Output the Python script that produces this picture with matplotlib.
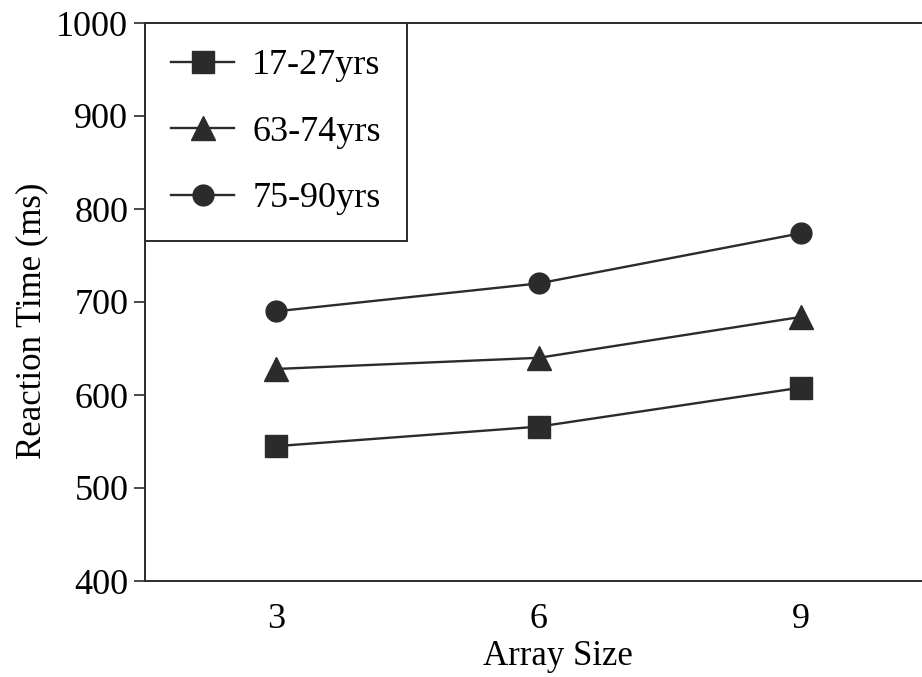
import matplotlib.pyplot as plt

plt.rcParams['font.family'] = ['Liberation Serif', 'DejaVu Serif']

# data
array_size = [3, 6, 9]
young = [545, 566, 608]      # 17-27yrs
old = [628, 640, 684]        # 63-74yrs
oldest = [690, 720, 774]     # 75-90yrs
series_labels = ['17-27yrs', '63-74yrs', '75-90yrs']

ink = '#2b2b2b'

fig = plt.figure(figsize=(9.22, 6.77), dpi=100)
ax = fig.add_axes([145 / 922, 1 - 581 / 677, 787.5 / 922, 558 / 677])

ax.plot(array_size, young, color=ink, lw=1.7, marker='s', ms=15.5, label=series_labels[0])
ax.plot(array_size, old, color=ink, lw=1.7, marker='^', ms=17, label=series_labels[1])
ax.plot(array_size, oldest, color=ink, lw=1.7, marker='o', ms=15, label=series_labels[2])

ax.set_xlim(1.5, 10.5)
ax.set_ylim(400, 1000)
ax.set_xticks(array_size)
ax.set_yticks(range(400, 1001, 100))

ax.tick_params(axis='y', direction='out', length=8, width=1.2, pad=4, labelsize=26, color=ink)
ax.tick_params(axis='x', length=0, pad=16, labelsize=26)

for side in ['left', 'top', 'bottom', 'right']:
    ax.spines[side].set_linewidth(1.4)
    ax.spines[side].set_color(ink)

ax.set_xlabel('Array Size', fontsize=25)
ax.xaxis.set_label_coords(0.524, -0.105)
ax.set_ylabel('Reaction Time (ms)', fontsize=25)
ax.yaxis.set_label_coords(-0.123, 0.466)

leg = ax.legend(loc='upper left', bbox_to_anchor=(0, 1), borderaxespad=0,
                fontsize=26, frameon=True, fancybox=False, framealpha=1,
                edgecolor=ink, handlelength=1.75, handletextpad=0.5,
                labelspacing=0.92, borderpad=0.72)
leg.get_frame().set_linewidth(1.4)

fig.savefig('out.png', dpi=100)
